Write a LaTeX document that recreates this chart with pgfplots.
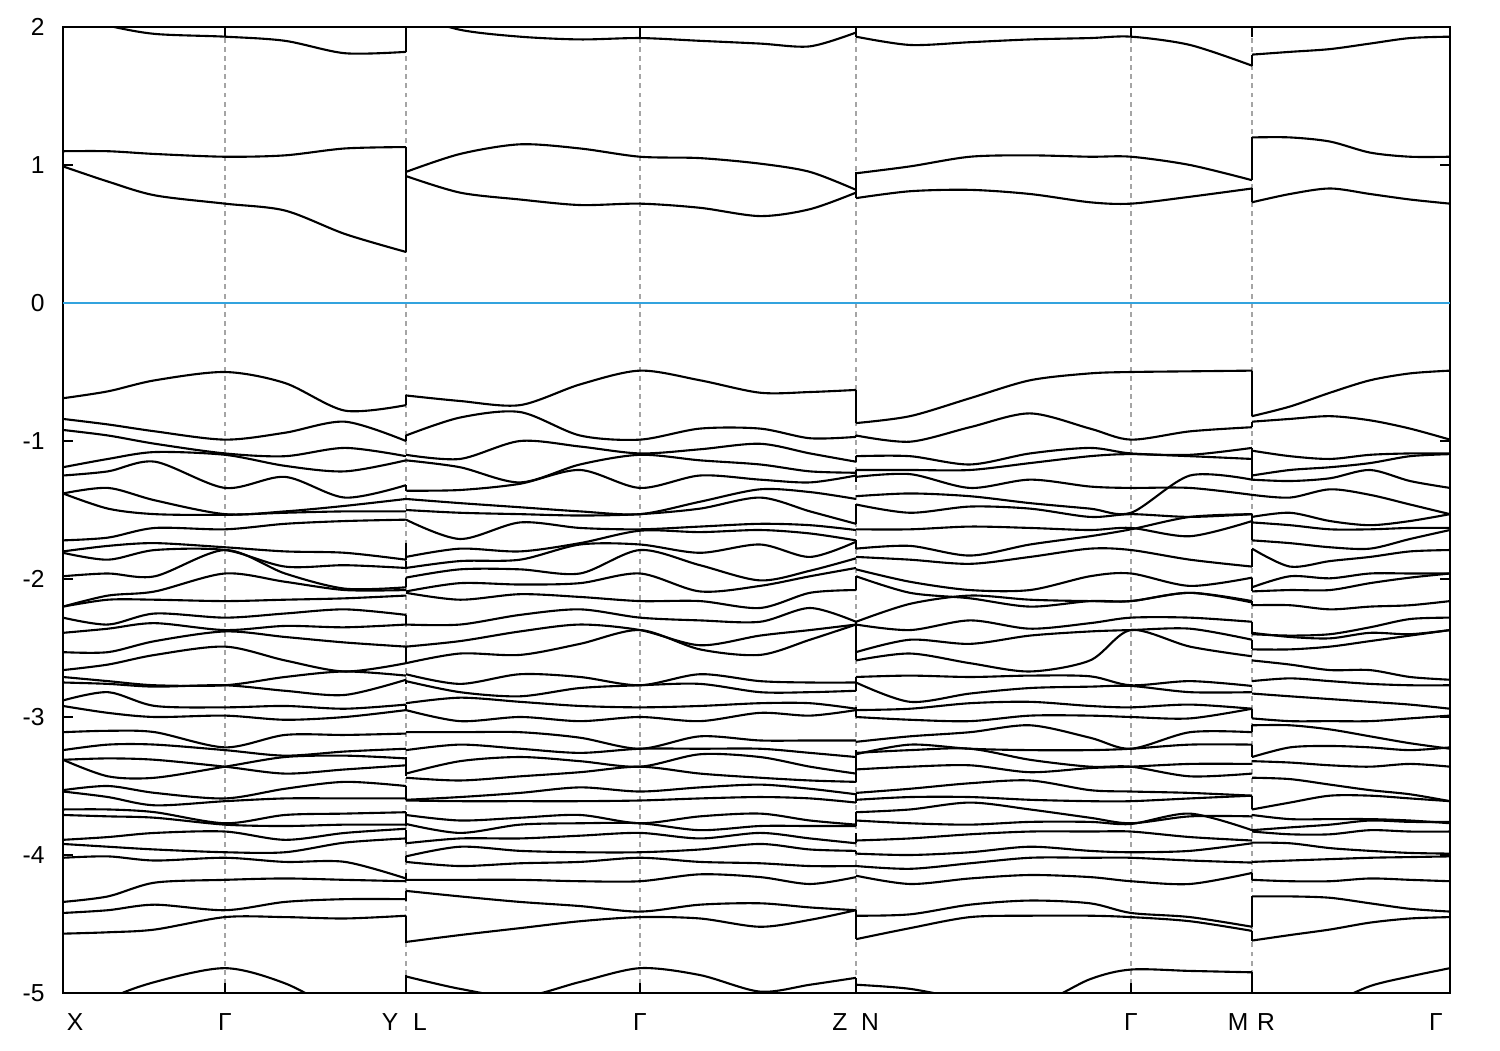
\documentclass[border=0pt]{standalone}
\usepackage{fontspec}
\setmainfont{Liberation Sans}
\usepackage{pgfplots}
\pgfplotsset{compat=1.18}
\definecolor{zeroline}{RGB}{51,163,222}
\definecolor{gridgray}{RGB}{165,165,165}
\pgfplotsset{band/.style={black, line width=0.6pt, smooth, tension=0.5, no marks},
             jump/.style={black, line width=0.6pt, no marks}}
\newcommand{\bA}[7]{\addplot[band] coordinates {(63,#1)(108,#2)(155,#3)(225,#4)(285,#5)(345,#6)(406,#7)};}
\newcommand{\bB}[9]{\addplot[band] coordinates {(406,#1)(460,#2)(520,#3)(580,#4)(640,#5)(700,#6)(760,#7)(810,#8)(856,#9)};}
\newcommand{\bC}[8]{\addplot[band] coordinates {(856,#1)(910,#2)(970,#3)(1030,#4)(1090,#5)(1131,#6)(1190,#7)(1252,#8)};}
\newcommand{\bD}[6]{\addplot[band] coordinates {(1252,#1)(1290,#2)(1330,#3)(1370,#4)(1410,#5)(1450,#6)};}
\newcommand{\vj}[3]{\addplot[jump] coordinates {(#1,#2)(#1,#3)};}
\begin{document}
\begin{tikzpicture}
\path[use as bounding box] (0,0) rectangle (15cm,10.5cm);
\begin{axis}[
  at={(0.63cm,0.57cm)}, anchor=south west,
  width=13.87cm, height=9.66cm, scale only axis,
  xmin=63, xmax=1450, ymin=-5, ymax=2,
  xtick={225,406,640,856,1131,1252}, xticklabels={},
  xmajorgrids, grid style={gridgray, dash pattern=on 1.4pt off 1.2pt, line width=0.35pt},
  ytick={-5,-4,-3,-2,-1,0,1,2}, yticklabels={-5,-4,-3,-2,-1,0,1,2},
  tick pos=both, tick align=inside, major tick length=0.1cm,
  tick style={black, line width=0.6pt},
  axis line style={line width=0.8pt},
  extra x ticks={75,225,390,420,640,840,870,1131,1238,1266,1436},
  extra x tick labels={X,Γ,Y,L,Γ,Z,N,Γ,M,R,Γ},
  extra x tick style={major tick length=0pt, grid=none, xticklabel style={yshift=-0.08cm}},
  yticklabel style={xshift=-0.06cm},
  ticklabel style={font=\fontsize{7}{8}\selectfont},
  clip=true,
]
\addplot[zeroline, line width=0.6pt] coordinates {(63,0)(1450,0)};
% ---------- segment X - Gamma - Y ----------
\bA{2.10}{2.01}{1.95}{1.93}{1.90}{1.81}{1.82}
\bA{1.10}{1.10}{1.08}{1.06}{1.07}{1.12}{1.13}
\bA{0.99}{0.88}{0.78}{0.72}{0.67}{0.50}{0.37}
\bA{-0.69}{-0.64}{-0.56}{-0.50}{-0.58}{-0.78}{-0.74}
\bA{-0.84}{-0.88}{-0.93}{-0.99}{-0.94}{-0.86}{-1.00}
\bA{-0.92}{-0.96}{-1.02}{-1.09}{-1.11}{-1.05}{-1.11}
\bA{-1.19}{-1.13}{-1.08}{-1.10}{-1.18}{-1.22}{-1.14}
\bA{-1.25}{-1.22}{-1.15}{-1.34}{-1.26}{-1.41}{-1.32}
\bA{-1.38}{-1.34}{-1.43}{-1.53}{-1.51}{-1.47}{-1.42}
\bA{-1.38}{-1.49}{-1.53}{-1.535}{-1.52}{-1.51}{-1.51}
\bA{-1.72}{-1.70}{-1.63}{-1.64}{-1.60}{-1.58}{-1.57}
\bA{-1.80}{-1.76}{-1.74}{-1.77}{-1.80}{-1.81}{-1.86}
\bA{-1.81}{-1.86}{-1.79}{-1.79}{-1.91}{-1.90}{-1.92}
\bA{-1.98}{-1.96}{-1.98}{-1.79}{-1.96}{-2.07}{-2.06}
\bA{-2.20}{-2.12}{-2.09}{-1.96}{-2.02}{-2.08}{-2.08}
\bA{-2.20}{-2.15}{-2.15}{-2.16}{-2.15}{-2.14}{-2.12}
\bA{-2.28}{-2.33}{-2.25}{-2.28}{-2.25}{-2.22}{-2.26}
\bA{-2.39}{-2.36}{-2.32}{-2.37}{-2.34}{-2.35}{-2.33}
\bA{-2.53}{-2.53}{-2.45}{-2.38}{-2.42}{-2.46}{-2.49}
\bA{-2.66}{-2.62}{-2.55}{-2.49}{-2.59}{-2.67}{-2.61}
\bA{-2.71}{-2.74}{-2.77}{-2.77}{-2.71}{-2.67}{-2.70}
\bA{-2.75}{-2.76}{-2.78}{-2.77}{-2.81}{-2.84}{-2.73}
\bA{-2.88}{-2.82}{-2.92}{-2.93}{-2.92}{-2.94}{-2.91}
\bA{-2.92}{-2.97}{-3.00}{-2.99}{-3.02}{-3.00}{-2.95}
\bA{-3.11}{-3.10}{-3.11}{-3.22}{-3.13}{-3.13}{-3.12}
\bA{-3.24}{-3.20}{-3.20}{-3.24}{-3.28}{-3.25}{-3.23}
\bA{-3.31}{-3.43}{-3.44}{-3.36}{-3.29}{-3.28}{-3.30}
\bA{-3.31}{-3.30}{-3.31}{-3.36}{-3.41}{-3.38}{-3.35}
\bA{-3.53}{-3.50}{-3.55}{-3.59}{-3.52}{-3.47}{-3.50}
\bA{-3.54}{-3.58}{-3.64}{-3.61}{-3.59}{-3.59}{-3.59}
\bA{-3.67}{-3.67}{-3.69}{-3.77}{-3.71}{-3.70}{-3.69}
\bA{-3.71}{-3.72}{-3.73}{-3.78}{-3.79}{-3.78}{-3.78}
\bA{-3.89}{-3.87}{-3.84}{-3.83}{-3.89}{-3.84}{-3.81}
\bA{-3.92}{-3.94}{-3.96}{-3.98}{-3.98}{-3.91}{-3.88}
\bA{-4.02}{-4.01}{-4.04}{-4.02}{-4.05}{-4.05}{-4.17}
\bA{-4.34}{-4.30}{-4.20}{-4.18}{-4.17}{-4.18}{-4.19}
\bA{-4.42}{-4.40}{-4.36}{-4.40}{-4.34}{-4.32}{-4.32}
\bA{-4.57}{-4.56}{-4.54}{-4.45}{-4.45}{-4.46}{-4.44}
\bA{-5.30}{-5.05}{-4.92}{-4.82}{-4.93}{-5.15}{-5.30}
% ---------- segment L - Gamma - Z ----------
\bB{2.10}{1.98}{1.93}{1.91}{1.92}{1.90}{1.88}{1.86}{1.96}
\bB{0.95}{1.08}{1.15}{1.12}{1.06}{1.05}{1.01}{0.95}{0.82}
\bB{0.92}{0.80}{0.75}{0.71}{0.72}{0.69}{0.63}{0.68}{0.80}
\bB{-0.67}{-0.71}{-0.74}{-0.59}{-0.49}{-0.56}{-0.65}{-0.645}{-0.63}
\bB{-0.96}{-0.83}{-0.79}{-0.96}{-0.99}{-0.91}{-0.91}{-0.98}{-0.97}
\bB{-1.10}{-1.13}{-1.00}{-1.04}{-1.09}{-1.06}{-1.02}{-1.09}{-1.15}
\bB{-1.14}{-1.19}{-1.30}{-1.17}{-1.10}{-1.14}{-1.17}{-1.22}{-1.23}
\bB{-1.36}{-1.355}{-1.31}{-1.21}{-1.34}{-1.25}{-1.28}{-1.30}{-1.25}
\bB{-1.42}{-1.45}{-1.48}{-1.51}{-1.53}{-1.44}{-1.35}{-1.37}{-1.42}
\bB{-1.50}{-1.52}{-1.53}{-1.54}{-1.53}{-1.49}{-1.41}{-1.51}{-1.60}
\bB{-1.57}{-1.71}{-1.59}{-1.63}{-1.64}{-1.62}{-1.60}{-1.61}{-1.645}
\bB{-1.84}{-1.78}{-1.80}{-1.74}{-1.65}{-1.66}{-1.645}{-1.67}{-1.72}
\bB{-1.92}{-1.87}{-1.86}{-1.75}{-1.75}{-1.81}{-1.75}{-1.84}{-1.73}
\bB{-1.99}{-1.93}{-1.93}{-1.96}{-1.79}{-1.90}{-2.01}{-1.94}{-1.85}
\bB{-2.09}{-2.03}{-2.04}{-2.03}{-1.96}{-2.09}{-2.05}{-1.98}{-1.92}
\bB{-2.10}{-2.15}{-2.11}{-2.13}{-2.16}{-2.16}{-2.21}{-2.10}{-2.08}
\bB{-2.33}{-2.33}{-2.26}{-2.22}{-2.28}{-2.30}{-2.31}{-2.21}{-2.31}
\bB{-2.49}{-2.45}{-2.38}{-2.33}{-2.37}{-2.48}{-2.41}{-2.37}{-2.33}
\bB{-2.61}{-2.54}{-2.55}{-2.47}{-2.37}{-2.51}{-2.55}{-2.44}{-2.33}
\bB{-2.69}{-2.76}{-2.69}{-2.71}{-2.77}{-2.69}{-2.74}{-2.75}{-2.75}
\bB{-2.74}{-2.82}{-2.85}{-2.79}{-2.77}{-2.76}{-2.82}{-2.82}{-2.81}
\bB{-2.90}{-2.86}{-2.89}{-2.92}{-2.93}{-2.92}{-2.90}{-2.90}{-2.94}
\bB{-2.95}{-3.03}{-3.00}{-3.03}{-3.00}{-3.03}{-2.97}{-2.99}{-2.95}
\bB{-3.11}{-3.11}{-3.11}{-3.15}{-3.23}{-3.14}{-3.17}{-3.17}{-3.17}
\bB{-3.24}{-3.20}{-3.23}{-3.26}{-3.23}{-3.23}{-3.23}{-3.26}{-3.29}
\bB{-3.41}{-3.32}{-3.29}{-3.32}{-3.36}{-3.27}{-3.29}{-3.36}{-3.41}
\bB{-3.44}{-3.46}{-3.43}{-3.40}{-3.36}{-3.41}{-3.44}{-3.46}{-3.47}
\bB{-3.60}{-3.58}{-3.55}{-3.51}{-3.54}{-3.51}{-3.49}{-3.52}{-3.56}
\bB{-3.605}{-3.61}{-3.61}{-3.61}{-3.605}{-3.59}{-3.58}{-3.59}{-3.62}
\bB{-3.71}{-3.75}{-3.73}{-3.71}{-3.77}{-3.72}{-3.70}{-3.75}{-3.78}
\bB{-3.775}{-3.84}{-3.78}{-3.77}{-3.77}{-3.82}{-3.79}{-3.79}{-3.79}
\bB{-3.915}{-3.88}{-3.88}{-3.86}{-3.84}{-3.88}{-3.84}{-3.88}{-3.915}
\bB{-4.01}{-3.94}{-3.97}{-3.98}{-3.98}{-3.96}{-3.92}{-3.96}{-3.97}
\bB{-4.05}{-4.08}{-4.06}{-4.05}{-4.02}{-4.05}{-4.06}{-4.08}{-4.08}
\bB{-4.18}{-4.18}{-4.18}{-4.19}{-4.19}{-4.14}{-4.16}{-4.21}{-4.16}
\bB{-4.26}{-4.30}{-4.34}{-4.37}{-4.41}{-4.36}{-4.35}{-4.38}{-4.40}
\bB{-4.63}{-4.58}{-4.53}{-4.48}{-4.45}{-4.46}{-4.52}{-4.47}{-4.40}
\bB{-4.88}{-4.97}{-5.03}{-4.92}{-4.82}{-4.87}{-4.99}{-4.94}{-4.89}
% ---------- segment N - Gamma - M ----------
\bC{1.93}{1.87}{1.89}{1.91}{1.92}{1.93}{1.87}{1.72}
\bC{0.94}{0.99}{1.06}{1.07}{1.06}{1.06}{1.00}{0.89}
\bC{0.76}{0.81}{0.82}{0.79}{0.73}{0.72}{0.77}{0.83}
\bC{-0.87}{-0.82}{-0.69}{-0.56}{-0.51}{-0.50}{-0.495}{-0.49}
\bC{-0.96}{-1.005}{-0.90}{-0.80}{-0.91}{-0.99}{-0.93}{-0.90}
\bC{-1.11}{-1.11}{-1.17}{-1.09}{-1.05}{-1.09}{-1.10}{-1.05}
\bC{-1.21}{-1.21}{-1.21}{-1.16}{-1.11}{-1.095}{-1.11}{-1.13}
\bC{-1.26}{-1.24}{-1.34}{-1.28}{-1.33}{-1.34}{-1.34}{-1.39}
\bC{-1.40}{-1.38}{-1.40}{-1.45}{-1.49}{-1.52}{-1.25}{-1.28}
\bC{-1.46}{-1.52}{-1.475}{-1.49}{-1.55}{-1.53}{-1.55}{-1.53}
\bC{-1.64}{-1.64}{-1.62}{-1.63}{-1.645}{-1.63}{-1.69}{-1.58}
\bC{-1.78}{-1.76}{-1.83}{-1.75}{-1.69}{-1.64}{-1.55}{-1.53}
\bC{-1.84}{-1.86}{-1.89}{-1.84}{-1.78}{-1.79}{-1.86}{-1.91}
\bC{-1.93}{-2.02}{-2.08}{-2.08}{-1.98}{-1.96}{-2.05}{-1.99}
\bC{-1.98}{-2.10}{-2.14}{-2.20}{-2.16}{-2.16}{-2.10}{-2.16}
\bC{-2.31}{-2.18}{-2.12}{-2.15}{-2.16}{-2.16}{-2.10}{-2.17}
\bC{-2.33}{-2.37}{-2.30}{-2.36}{-2.32}{-2.28}{-2.28}{-2.31}
\bC{-2.53}{-2.44}{-2.47}{-2.41}{-2.38}{-2.37}{-2.36}{-2.44}
\bC{-2.59}{-2.54}{-2.61}{-2.67}{-2.59}{-2.37}{-2.49}{-2.56}
\bC{-2.71}{-2.70}{-2.71}{-2.70}{-2.705}{-2.77}{-2.74}{-2.775}
\bC{-2.75}{-2.89}{-2.83}{-2.79}{-2.78}{-2.775}{-2.82}{-2.82}
\bC{-2.95}{-2.94}{-2.90}{-2.89}{-2.92}{-2.93}{-2.91}{-2.94}
\bC{-3.00}{-3.02}{-3.03}{-2.99}{-2.99}{-3.00}{-3.01}{-2.94}
\bC{-3.18}{-3.14}{-3.11}{-3.06}{-3.15}{-3.23}{-3.11}{-3.11}
\bC{-3.27}{-3.20}{-3.23}{-3.24}{-3.24}{-3.23}{-3.20}{-3.20}
\bC{-3.26}{-3.24}{-3.23}{-3.31}{-3.36}{-3.36}{-3.43}{-3.41}
\bC{-3.38}{-3.36}{-3.35}{-3.40}{-3.37}{-3.36}{-3.34}{-3.34}
\bC{-3.55}{-3.52}{-3.48}{-3.46}{-3.53}{-3.54}{-3.55}{-3.57}
\bC{-3.60}{-3.58}{-3.58}{-3.60}{-3.61}{-3.61}{-3.59}{-3.57}
\bC{-3.69}{-3.67}{-3.62}{-3.67}{-3.73}{-3.77}{-3.72}{-3.72}
\bC{-3.75}{-3.77}{-3.78}{-3.76}{-3.76}{-3.775}{-3.70}{-3.82}
\bC{-3.895}{-3.88}{-3.85}{-3.83}{-3.83}{-3.83}{-3.87}{-3.895}
\bC{-3.99}{-4.00}{-3.98}{-3.94}{-3.97}{-3.98}{-3.97}{-3.915}
\bC{-4.08}{-4.10}{-4.06}{-4.02}{-4.02}{-4.02}{-4.04}{-4.055}
\bC{-4.15}{-4.21}{-4.17}{-4.145}{-4.16}{-4.19}{-4.21}{-4.13}
\bC{-4.44}{-4.43}{-4.36}{-4.33}{-4.35}{-4.42}{-4.45}{-4.52}
\bC{-4.61}{-4.53}{-4.45}{-4.44}{-4.44}{-4.45}{-4.48}{-4.55}
\bC{-4.94}{-4.97}{-5.05}{-5.10}{-4.90}{-4.83}{-4.84}{-4.85}
% ---------- segment R - Gamma ----------
\bD{1.80}{1.82}{1.84}{1.88}{1.92}{1.93}
\bD{1.20}{1.20}{1.17}{1.09}{1.06}{1.06}
\bD{0.73}{0.79}{0.83}{0.79}{0.75}{0.72}
\bD{-0.82}{-0.75}{-0.65}{-0.56}{-0.51}{-0.49}
\bD{-0.86}{-0.84}{-0.82}{-0.85}{-0.91}{-0.99}
\bD{-1.07}{-1.11}{-1.13}{-1.10}{-1.09}{-1.09}
\bD{-1.25}{-1.21}{-1.19}{-1.16}{-1.11}{-1.095}
\bD{-1.28}{-1.29}{-1.27}{-1.21}{-1.29}{-1.34}
\bD{-1.39}{-1.41}{-1.35}{-1.39}{-1.46}{-1.53}
\bD{-1.55}{-1.52}{-1.58}{-1.61}{-1.58}{-1.53}
\bD{-1.59}{-1.61}{-1.64}{-1.64}{-1.63}{-1.63}
\bD{-1.72}{-1.74}{-1.77}{-1.78}{-1.71}{-1.645}
\bD{-1.78}{-1.91}{-1.87}{-1.84}{-1.80}{-1.79}
\bD{-2.06}{-1.98}{-1.995}{-1.96}{-1.96}{-1.96}
\bD{-2.09}{-2.08}{-2.08}{-2.03}{-1.99}{-1.96}
\bD{-2.19}{-2.19}{-2.22}{-2.20}{-2.19}{-2.16}
\bD{-2.40}{-2.41}{-2.40}{-2.35}{-2.29}{-2.28}
\bD{-2.39}{-2.42}{-2.43}{-2.39}{-2.40}{-2.37}
\bD{-2.51}{-2.51}{-2.49}{-2.45}{-2.41}{-2.37}
\bD{-2.59}{-2.62}{-2.66}{-2.66}{-2.71}{-2.73}
\bD{-2.74}{-2.72}{-2.74}{-2.76}{-2.77}{-2.77}
\bD{-2.83}{-2.85}{-2.87}{-2.89}{-2.91}{-2.94}
\bD{-3.01}{-3.03}{-3.03}{-3.03}{-3.01}{-2.99}
\bD{-3.06}{-3.06}{-3.09}{-3.14}{-3.19}{-3.23}
\bD{-3.29}{-3.22}{-3.21}{-3.22}{-3.24}{-3.22}
\bD{-3.32}{-3.33}{-3.35}{-3.36}{-3.34}{-3.36}
\bD{-3.44}{-3.45}{-3.49}{-3.53}{-3.56}{-3.61}
\bD{-3.67}{-3.62}{-3.57}{-3.57}{-3.59}{-3.61}
\bD{-3.71}{-3.74}{-3.74}{-3.74}{-3.75}{-3.77}
\bD{-3.82}{-3.80}{-3.78}{-3.75}{-3.76}{-3.76}
\bD{-3.83}{-3.85}{-3.85}{-3.82}{-3.83}{-3.83}
\bD{-3.91}{-3.915}{-3.95}{-3.97}{-3.985}{-3.99}
\bD{-4.05}{-4.04}{-4.03}{-4.02}{-4.015}{-4.01}
\bD{-4.18}{-4.19}{-4.19}{-4.17}{-4.18}{-4.19}
\bD{-4.30}{-4.30}{-4.31}{-4.35}{-4.39}{-4.41}
\bD{-4.62}{-4.58}{-4.54}{-4.49}{-4.46}{-4.45}
\bD{-5.30}{-5.20}{-5.08}{-4.95}{-4.88}{-4.82}
% ---------- jumps at segment boundaries ----------
\vj{406}{1.82}{2.10}
\vj{406}{0.37}{1.13}
\vj{406}{-0.67}{-0.74}
\vj{406}{-0.96}{-1.00}
\vj{406}{-1.32}{-1.36}
\vj{406}{-1.74}{-1.86}
\vj{406}{-1.87}{-1.92}
\vj{406}{-1.99}{-2.06}
\vj{406}{-2.26}{-2.33}
\vj{406}{-2.49}{-2.61}
\vj{406}{-2.73}{-2.76}
\vj{406}{-2.91}{-2.96}
\vj{406}{-3.29}{-3.43}
\vj{406}{-3.50}{-3.60}
\vj{406}{-3.69}{-3.79}
\vj{406}{-3.82}{-3.915}
\vj{406}{-4.01}{-4.05}
\vj{406}{-4.13}{-4.18}
\vj{406}{-4.26}{-4.33}
\vj{406}{-4.44}{-4.64}
\vj{406}{-4.87}{-5.10}
\vj{856}{1.93}{2.10}
\vj{856}{0.76}{0.82}
\vj{856}{0.80}{0.95}
\vj{856}{-0.63}{-0.87}
\vj{856}{-0.96}{-0.97}
\vj{856}{-1.11}{-1.15}
\vj{856}{-1.21}{-1.30}
\vj{856}{-1.46}{-1.60}
\vj{856}{-1.72}{-1.78}
\vj{856}{-1.98}{-2.08}
\vj{856}{-2.31}{-2.59}
\vj{856}{-2.71}{-2.81}
\vj{856}{-2.93}{-3.00}
\vj{856}{-3.24}{-3.47}
\vj{856}{-3.55}{-3.62}
\vj{856}{-3.69}{-3.79}
\vj{856}{-3.84}{-3.915}
\vj{856}{-3.97}{-3.99}
\vj{856}{-4.40}{-4.61}
\vj{856}{-4.89}{-4.96}
\vj{1252}{1.72}{1.80}
\vj{1252}{0.89}{1.20}
\vj{1252}{0.73}{0.83}
\vj{1252}{-0.49}{-0.82}
\vj{1252}{-0.86}{-0.90}
\vj{1252}{-1.05}{-1.13}
\vj{1252}{-1.13}{-1.28}
\vj{1252}{-1.53}{-1.72}
\vj{1252}{-1.78}{-1.91}
\vj{1252}{-1.99}{-2.09}
\vj{1252}{-2.16}{-2.19}
\vj{1252}{-2.31}{-2.40}
\vj{1252}{-2.44}{-2.51}
\vj{1252}{-2.94}{-3.01}
\vj{1252}{-3.06}{-3.11}
\vj{1252}{-3.20}{-3.29}
\vj{1252}{-3.57}{-3.67}
\vj{1252}{-4.13}{-4.18}
\vj{1252}{-4.30}{-4.52}
\vj{1252}{-4.55}{-4.62}
\vj{1252}{-4.85}{-5.10}
\end{axis}
\end{tikzpicture}
\end{document}
